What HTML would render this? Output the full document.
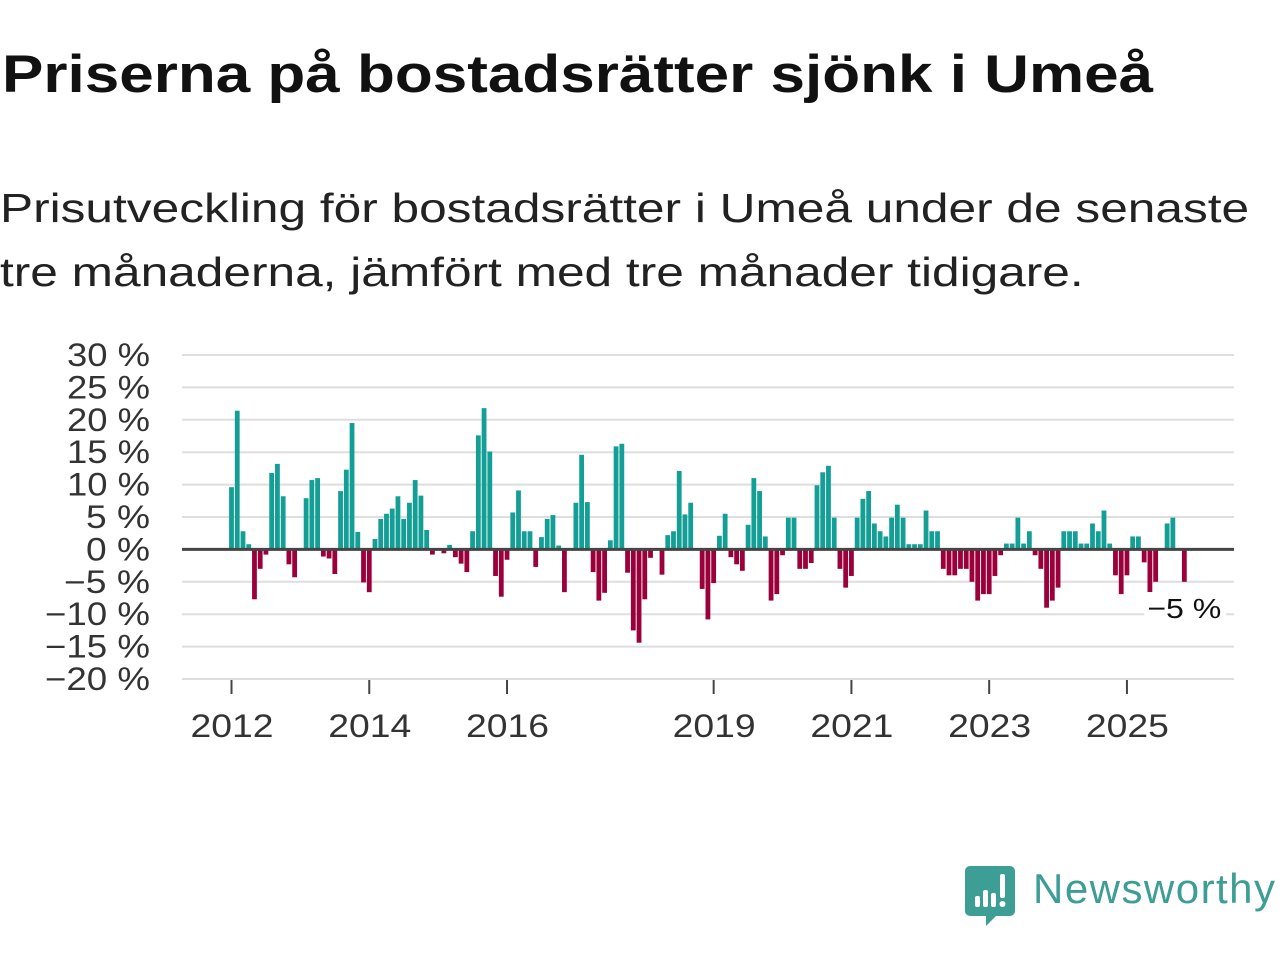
<!DOCTYPE html>
<html><head><meta charset="utf-8"><style>
body{margin:0;background:#fff;width:1280px;height:960px;overflow:hidden;font-family:"Liberation Sans",sans-serif;}
#title{position:absolute;left:2px;top:44px;font-size:53px;font-weight:bold;color:#111;margin:0;white-space:nowrap;transform:scaleX(1.17);transform-origin:0 0;}
#sub{position:absolute;left:0;top:176px;font-size:41px;line-height:64px;color:#222;margin:0;white-space:nowrap;transform:scaleX(1.21);transform-origin:0 0;}
svg{position:absolute;left:0;top:0;}
</style></head><body>
<h1 id="title">Priserna på bostadsrätter sjönk i Umeå</h1>
<p id="sub">Prisutveckling för bostadsrätter i Umeå under de senaste<br>tre månaderna, jämfört med tre månader tidigare.</p>
<svg id="chart" width="1280" height="960"></svg>
<script>
const startYear = 2012;
const values = [9.6,21.4,2.8,0.8,-7.7,-3.0,-0.8,11.8,13.2,8.2,-2.3,-4.3,0,7.9,10.7,11.0,-1.1,-1.4,-3.8,9.0,12.3,19.5,2.7,-5.1,-6.6,1.6,4.7,5.5,6.3,8.2,4.7,7.2,10.7,8.3,3.0,-0.8,0,-0.6,0.7,-1.2,-2.2,-3.5,
2.8,17.6,21.8,15.1,-4.1,-7.3,-1.6,5.7,9.1,2.8,2.8,-2.7,1.9,4.7,5.3,0.6,-6.6,0,7.2,14.6,7.3,-3.5,-7.9,-6.7,1.4,15.9,16.3,-3.6,-12.5,-14.4,-7.7,-1.3,0,-3.9,2.2,2.8,12.1,5.4,7.2,0,-6.1,-10.8,
-5.2,2.1,5.5,-1.2,-2.3,-3.3,3.8,11.0,9.0,2.0,-7.9,-6.9,-0.9,4.9,4.9,-3.0,-3.0,-2.1,9.9,11.9,12.9,4.9,-3.0,-5.9,-4.1,4.9,7.8,9.0,4.0,2.8,2.0,4.9,6.9,4.9,0.8,0.8,0.8,6.0,2.8,2.8,-3.0,-4.0,
-4.0,-3.0,-3.0,-5.0,-7.9,-6.9,-6.9,-4.1,-0.9,0.9,0.9,4.9,0.9,2.8,-0.9,-3.0,-9.0,-7.9,-5.9,2.8,2.8,2.8,0.9,0.9,4.0,2.8,6.0,0.9,-4.0,-6.9,-4.0,2.0,2.0,-2.0,-6.9,-5.0,0,4.0,4.9,0,-5.0];
const yTicks = [30,25,20,15,10,5,0,-5,-10,-15,-20];
const xTickYears = [2012,2014,2016,2019,2021,2023,2025];
const lastLabel = "−5 %";

const NS="http://www.w3.org/2000/svg";
const svg=document.getElementById('chart');
const x0=231.5, monthW=5.74;
function xScale(i){return x0+i*monthW;}
function yScale(v){return 549.4-v*6.48;}
function mk(tag,attrs){const e=document.createElementNS(NS,tag);for(const k in attrs)e.setAttribute(k,attrs[k]);svg.appendChild(e);return e;}
yTicks.forEach(t=>{
  const g=mk('line',{x1:182,x2:1234,y1:yScale(t),y2:yScale(t),stroke:'#dedede','stroke-width':2});
  
  
  const lbl=(t<0?'−'+(-t):t)+' %';
  const w=(t<0?22:0)+(Math.abs(t)>=10?83:64);
  const tx=mk('text',{x:150,y:yScale(t)+11,'text-anchor':'end','font-size':32,fill:'#333','font-family':'Liberation Sans, sans-serif',textLength:w,lengthAdjust:'spacingAndGlyphs'});
  tx.textContent=lbl;
  
  
});
values.forEach((v,i)=>{
  const y=Math.min(yScale(v),yScale(0)), h=Math.abs(yScale(v)-yScale(0));
  const r=mk('rect',{x:xScale(i)-2.4,y:y,width:4.8,height:h,fill:v>=0?'#139e96':'#9b003b'});
  
  
});
const z=mk('line',{x1:182,x2:1234,y1:yScale(0),y2:yScale(0),stroke:'#444','stroke-width':3});


mk('line',{x1:182,x2:1234,y1:679,y2:679,stroke:'#dedede','stroke-width':2});
xTickYears.forEach(yr=>{
  const xx=xScale((yr-startYear)*12);
  const t=mk('line',{x1:xx,x2:xx,y1:680,y2:694,stroke:'#444','stroke-width':2});
  
  
  const tx=mk('text',{x:xx-41,y:737,'font-size':32,fill:'#333','font-family':'Liberation Sans, sans-serif',textLength:83,lengthAdjust:'spacingAndGlyphs'});
  tx.textContent=yr;
  
  
});
const lx=xScale(values.length-1);
const bg=mk('rect',{x:lx-40,y:592,width:82,height:32,fill:'#fff'});


const ll=mk('text',{x:lx-37,y:618,'font-size':28,fill:'#111','font-family':'Liberation Sans, sans-serif',textLength:74,lengthAdjust:'spacingAndGlyphs'});
ll.textContent=lastLabel;


</script>
<svg width="1280" height="960" style="pointer-events:none">
<path d="M970 866 h40 a5 5 0 0 1 5 5 v40 a5 5 0 0 1 -5 5 h-14 l-10 10 v-10 h-16 a5 5 0 0 1 -5 -5 v-40 a5 5 0 0 1 5 -5z" fill="#3c9e95"/>
<rect x="975" y="896" width="5" height="11" rx="2" fill="#fff"/>
<rect x="983" y="890" width="5" height="17" rx="2" fill="#fff"/>
<rect x="991" y="893" width="5" height="14" rx="2" fill="#fff"/>
<rect x="1000" y="874" width="5" height="24" rx="2" fill="#fff"/>
<circle cx="1002.5" cy="904" r="3" fill="#fff"/>
<text x="1033" y="903" font-size="42" fill="#3c9e95" font-family="Liberation Sans, sans-serif" textLength="242">Newsworthy</text>
</svg>
</body></html>
